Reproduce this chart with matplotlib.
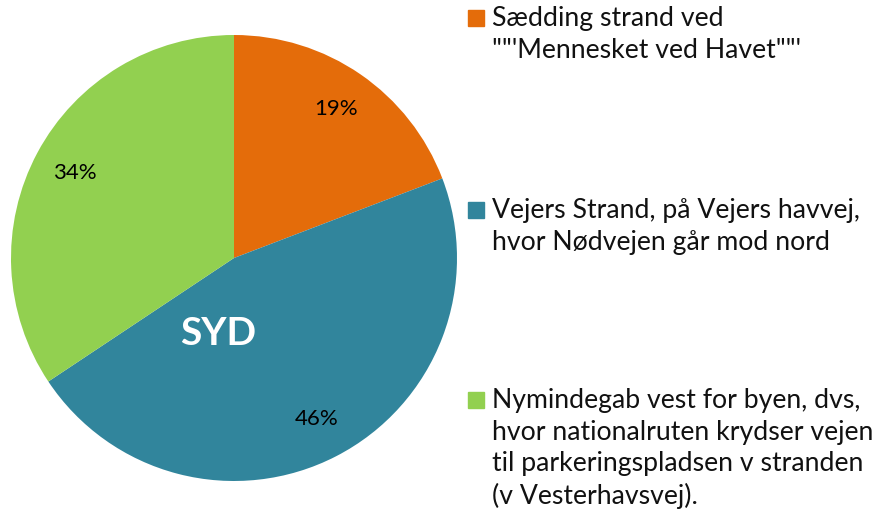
import matplotlib.pyplot as plt
from matplotlib.patches import Rectangle

labels = ['Sædding strand ved\n""\'Mennesket ved Havet""\'',
          'Vejers Strand, på Vejers havvej,\nhvor Nødvejen går mod nord',
          'Nymindegab vest for byen, dvs,\nhvor nationalruten krydser vejen\ntil parkeringspladsen v stranden\n(v Vesterhavsvej).']
values = [19, 46, 34]
colors = ['#E46C0A', '#31859C', '#92D050']

plt.rcParams['font.family'] = ['Lato', 'DejaVu Sans']

fig = plt.figure(figsize=(8.85, 5.26), dpi=100)
W, H = 885, 526
cx, cy, r = 234, 258, 223
ax = fig.add_axes([(cx - r) / W, (H - cy - r) / H, 2 * r / W, 2 * r / H])

wedges, texts, autotexts = ax.pie(values, colors=colors, startangle=90, counterclock=False,
                                  autopct='%1.0f%%', pctdistance=0.81, radius=1,
                                  textprops={'fontsize': 16, 'color': 'black'})
ax.set_xlim(-1, 1)
ax.set_ylim(-1, 1)
ax.set_aspect('equal')
ax.text(-0.07, -0.34, 'SYD', color='white', fontsize=28, fontweight='bold',
        ha='center', va='center')

# legend drawn by hand so the marker sits on the first line
tops = [8, 200, 390]
for lab, col, t in zip(labels, colors, tops):
    fig.patches.append(Rectangle((468 / W, 1 - (t + 18) / H), 16 / W, 16 / H,
                                 transform=fig.transFigure, color=col))
    fig.text(492 / W, 1 - (t - 2) / H, lab, fontsize=19.2, va='top', ha='left',
             linespacing=1.33, color='#111111')

fig.savefig('out.png', dpi=100)
